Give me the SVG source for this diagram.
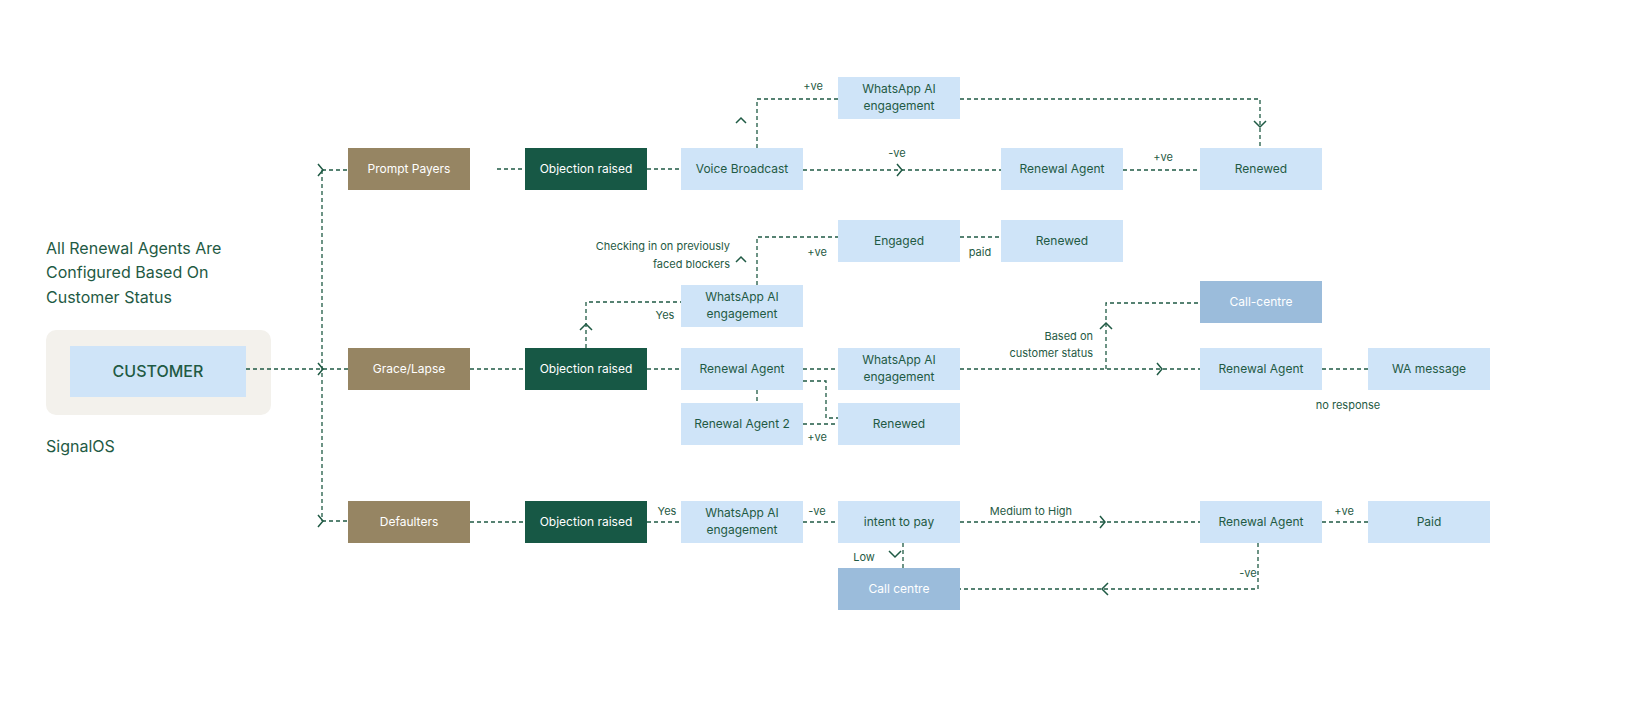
<svg xmlns="http://www.w3.org/2000/svg" width="1652" height="704" viewBox="0 0 1652 704">
<style>
text{font-family:Inter,"Noto Sans","Liberation Sans",sans-serif;}
.n rect{fill:#cfe4f8}
.n text{fill:#1f5a44;font-size:12px;text-anchor:middle}
.b rect{fill:#9bbcdb}
.b text{fill:#fff;font-size:12px;text-anchor:middle}
.t rect{fill:#968563}
.t text{fill:#fff;font-size:12px;text-anchor:middle}
.g rect{fill:#175845}
.g text{fill:#fff;font-size:12px;text-anchor:middle}
.c path{fill:none;stroke:#1f5a44;stroke-width:1.3;stroke-dasharray:4 3}
.c .h{stroke-dasharray:none;stroke-width:1.5}
.l{fill:#1f5a44;font-size:11px}
.r{text-anchor:end}
.m{text-anchor:middle}
</style>
<rect width="1652" height="704" fill="#fff"/>
<g id="title"><text x="46" y="254" fill="#1f5a44" font-size="16">All Renewal Agents Are</text><text x="46" y="278" fill="#1f5a44" font-size="16">Configured Based On</text><text x="46" y="303" fill="#1f5a44" font-size="16">Customer Status</text><text x="46" y="452" fill="#1f5a44" font-size="16">SignalOS</text></g>
<g id="customer"><rect x="46" y="330" width="225" height="85" rx="10" fill="#f3f1ec"/><rect x="70" y="346" width="176" height="51" fill="#cfe4f8"/><text x="158" y="377" fill="#1f5a44" font-size="16" font-weight="500" text-anchor="middle">CUSTOMER</text></g>
<g class="c" id="connectors">
<path d="M246 369H348M322 170V521M322 170H348M322 521H348"/>
<path class="h" d="M318 164l5 6-5 6M318 363l5 6-5 6M318 515l5 6-5 6"/>
<path d="M497 169H525M647 169H681M803 170H1001M1123 170H1200"/>
<path class="h" d="M897 164l5 6-5 6"/>
<path d="M757 148V99H838M960 99H1260V148"/>
<path class="h" d="M736 123l5-5 5 5M1254 121l6 6 6-6"/>
<path d="M586 348V302H681M757 285V237H838M960 237H1001"/>
<path class="h" d="M580 330l6-6 6 6M736 262l5-5 5 5"/>
<path d="M470 369H525M647 369H681M803 369H838M960 369H1200M1106 369V303H1200M1322 369H1368"/>
<path class="h" d="M1157 363l5 6-5 6M1100 329l6-6 6 6"/>
<path d="M803 381H826V418H838M757 390V403M803 424H838"/>
<path d="M470 522H525M647 522H681M803 522H838M960 522H1200M1322 522H1368M903 543V568M1258 543V589H960"/>
<path class="h" d="M1100 516l5 6-5 6M889 551l6 6 6-6M1108 583l-6 6 6 6"/>
</g>
<g id="labels">
<text class="l m" x="813" y="90">+ve</text><text class="l m" x="897" y="157">-ve</text><text class="l m" x="1163" y="161">+ve</text>
<text class="l r" x="730" y="250">Checking in on previously</text><text class="l r" x="730" y="268">faced blockers</text>
<text class="l m" x="817" y="256">+ve</text><text class="l m" x="980" y="256">paid</text><text class="l m" x="665" y="319">Yes</text>
<text class="l r" x="1093" y="340">Based on</text><text class="l r" x="1093" y="357">customer status</text>
<text class="l m" x="1348" y="409">no response</text><text class="l m" x="817" y="441">+ve</text>
<text class="l m" x="667" y="515">Yes</text><text class="l m" x="817" y="515">-ve</text><text class="l m" x="1031" y="515">Medium to High</text><text class="l m" x="1344" y="515">+ve</text>
<text class="l m" x="864" y="561">Low</text><text class="l m" x="1248" y="577">-ve</text>
</g>
<g id="pp" class="t"><rect x="348" y="148" width="122" height="42"/><text x="409" y="173">Prompt Payers</text></g>
<g id="obj1" class="g"><rect x="525" y="148" width="122" height="42"/><text x="586" y="173">Objection raised</text></g>
<g id="vb" class="n"><rect x="681" y="148" width="122" height="42"/><text x="742" y="173">Voice Broadcast</text></g>
<g id="ra1" class="n"><rect x="1001" y="148" width="122" height="42"/><text x="1062" y="173">Renewal Agent</text></g>
<g id="ren1" class="n"><rect x="1200" y="148" width="122" height="42"/><text x="1261" y="173">Renewed</text></g>
<g id="wa1" class="n"><rect x="838" y="77" width="122" height="42"/><text x="899" y="93">WhatsApp AI</text><text x="899" y="110">engagement</text></g>
<g id="eng" class="n"><rect x="838" y="220" width="122" height="42"/><text x="899" y="245">Engaged</text></g>
<g id="ren2" class="n"><rect x="1001" y="220" width="122" height="42"/><text x="1062" y="245">Renewed</text></g>
<g id="wa2" class="n"><rect x="681" y="285" width="122" height="42"/><text x="742" y="301">WhatsApp AI</text><text x="742" y="318">engagement</text></g>
<g id="cc1" class="b"><rect x="1200" y="281" width="122" height="42"/><text x="1261" y="306">Call-centre</text></g>
<g id="gl" class="t"><rect x="348" y="348" width="122" height="42"/><text x="409" y="373">Grace/Lapse</text></g>
<g id="obj2" class="g"><rect x="525" y="348" width="122" height="42"/><text x="586" y="373">Objection raised</text></g>
<g id="ra2" class="n"><rect x="681" y="348" width="122" height="42"/><text x="742" y="373">Renewal Agent</text></g>
<g id="wa3" class="n"><rect x="838" y="348" width="122" height="42"/><text x="899" y="364">WhatsApp AI</text><text x="899" y="381">engagement</text></g>
<g id="ra3" class="n"><rect x="1200" y="348" width="122" height="42"/><text x="1261" y="373">Renewal Agent</text></g>
<g id="wam" class="n"><rect x="1368" y="348" width="122" height="42"/><text x="1429" y="373">WA message</text></g>
<g id="ra4" class="n"><rect x="681" y="403" width="122" height="42"/><text x="742" y="428">Renewal Agent 2</text></g>
<g id="ren3" class="n"><rect x="838" y="403" width="122" height="42"/><text x="899" y="428">Renewed</text></g>
<g id="def" class="t"><rect x="348" y="501" width="122" height="42"/><text x="409" y="526">Defaulters</text></g>
<g id="obj3" class="g"><rect x="525" y="501" width="122" height="42"/><text x="586" y="526">Objection raised</text></g>
<g id="wa4" class="n"><rect x="681" y="501" width="122" height="42"/><text x="742" y="517">WhatsApp AI</text><text x="742" y="534">engagement</text></g>
<g id="itp" class="n"><rect x="838" y="501" width="122" height="42"/><text x="899" y="526">intent to pay</text></g>
<g id="ra5" class="n"><rect x="1200" y="501" width="122" height="42"/><text x="1261" y="526">Renewal Agent</text></g>
<g id="paid" class="n"><rect x="1368" y="501" width="122" height="42"/><text x="1429" y="526">Paid</text></g>
<g id="cc2" class="b"><rect x="838" y="568" width="122" height="42"/><text x="899" y="593">Call centre</text></g>
</svg>
